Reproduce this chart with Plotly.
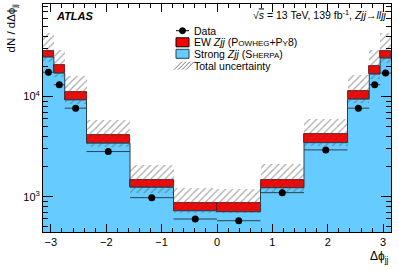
import numpy as np
import plotly.graph_objects as go

pi = np.pi
# bin edges in delta phi_jj
edges = [-pi, -15*pi/16, -7*pi/8, -3*pi/4, -pi/2, -pi/4, 0.0,
         pi/4, pi/2, 3*pi/4, 7*pi/8, 15*pi/16, pi]
strong = [24800, 17140, 9270, 3420, 1240, 724, 708, 1230, 3470, 9420, 16750, 24200]
ew = [4000, 3610, 1950, 720, 230, 147, 151, 240, 730, 1980, 3200, 4450]
data = [17500, 13100, 7650, 2820, 977, 598, 575, 1096, 2930, 7650, 13100, 17150]
unc_hi = [43300, 29300, 15850, 5850, 2075, 1213, 1200, 2110, 5940, 16500, 29300, 43100]
unc_lo = [21900, 15800, 8500, 3100, 1100, 690, 680, 1110, 3170, 8650, 15100, 21800]

x_ticks = [-3, -2, -1, 0, 1, 2, 3]
x_ticklabels = ["\u22123", "\u22122", "\u22121", "0", "1", "2", "3"]
y_ticks = [1000, 10000]
y_ticklabels = ["10<sup>3</sup>", "10<sup>4</sup>"]

edges = np.array(edges)
centers = 0.5 * (edges[:-1] + edges[1:])
widths = np.diff(edges)
strong_a = np.array(strong, float)
ew_a = np.array(ew, float)

BLUE = "#66ccff"
RED = "#ff0000"
LINE = "#2a4050"
HATCH = "#555555"
FONT = "Liberation Sans, Arial, Helvetica, sans-serif"

fig = go.Figure()
# strong Zjj filled histogram
fig.add_trace(go.Bar(x=centers, y=strong_a - 10, base=10, width=widths,
                     marker=dict(color=BLUE, line=dict(width=0)), showlegend=False))
# step outline of strong
fig.add_trace(go.Scatter(x=edges, y=list(strong) + [strong[-1]], mode="lines",
                         line=dict(shape="hv", color=LINE, width=1), showlegend=False))
# EW Zjj stacked
fig.add_trace(go.Bar(x=centers, y=ew_a, base=strong_a, width=widths,
                     marker=dict(color=RED, line=dict(width=0.8, color="#550000")),
                     showlegend=False))
# total uncertainty hatch
lo = np.array(unc_lo, float)
hi = np.array(unc_hi, float)
fig.add_trace(go.Bar(x=centers, y=hi - lo, base=lo, width=widths,
                     marker=dict(color="rgba(0,0,0,0)", line=dict(width=0),
                                 pattern=dict(shape="/", fgcolor=HATCH, bgcolor="rgba(0,0,0,0)",
                                              size=5, solidity=0.25, fillmode="overlay")),
                     showlegend=False))
# data
fig.add_trace(go.Scatter(x=centers, y=data, mode="markers",
                         marker=dict(color="black", size=7),
                         error_x=dict(type="data", array=widths / 2, color=LINE, thickness=1, width=0),
                         showlegend=False))

L, R, T, B = 43, 8, 4, 38
W, H = 399, 270
pw, ph = W - L - R, H - T - B

def px(x):
    return (x - L) / pw

def py(y):
    return (H - B - y) / ph

fig.update_layout(
    width=W, height=H, margin=dict(l=L, r=R, t=T, b=B),
    paper_bgcolor="white", plot_bgcolor="white", barmode="overlay",
    bargap=0, font=dict(family=FONT, size=11, color="black"),
)
fig.update_xaxes(range=[-pi, pi], tickvals=x_ticks, ticktext=x_ticklabels,
                 ticks="inside", ticklen=8, tickwidth=1, tickcolor="black",
                 showline=True, linecolor="black", linewidth=1, mirror="allticks",
                 showgrid=False, zeroline=False,
                 minor=dict(ticks="inside", ticklen=4, dtick=0.2, tick0=0, tickcolor="black", showgrid=False),
                 tickfont=dict(size=11))
minor_y = [m * 10**e for e in (2, 3, 4) for m in range(2, 10)]
fig.update_yaxes(type="log", range=[2.647, 4.924], tickvals=y_ticks, ticktext=y_ticklabels,
                 ticks="inside", ticklen=10, tickwidth=1, tickcolor="black",
                 showline=True, linecolor="black", linewidth=1, mirror="allticks",
                 showgrid=False, zeroline=False,
                 minor=dict(ticks="inside", ticklen=5, tickvals=minor_y, tickcolor="black", showgrid=False),
                 tickfont=dict(size=11))

ann = []
ann.append(dict(text="<b><i>ATLAS</i></b>", x=px(54), y=py(16), xref="paper", yref="paper",
                xanchor="left", yanchor="middle", showarrow=False, font=dict(size=11)))
ann.append(dict(text="\u221a<span style='text-decoration:overline'><i>s</i></span> = 13 TeV, 139 fb<sup>-1</sup>, <i>Zjj</i>\u2192<i>lljj</i>",
                x=px(389), y=py(14), xref="paper", yref="paper",
                xanchor="right", yanchor="middle", showarrow=False, font=dict(size=10.5)))
ann.append(dict(text="dN / d\u0394\u03d5<sub>jj</sub>", x=px(12), y=py(2), xref="paper", yref="paper",
                xanchor="center", yanchor="top", textangle=-90, showarrow=False, font=dict(size=11.5)))
ann.append(dict(text="\u0394\u03d5<sub>jj</sub>", x=1.0, y=py(257), xref="paper", yref="paper",
                xanchor="right", yanchor="middle", showarrow=False, font=dict(size=12)))

leg_text = ["Data",
            "EW <i>Zjj</i> (P<span style='font-size:8px'>OWHEG</span>+P<span style='font-size:8px'>Y</span>8)",
            "Strong <i>Zjj</i> (S<span style='font-size:8px'>HERPA</span>)",
            "Total uncertainty"]
leg_y = [30.7, 42.3, 53.8, 65.7]
for t, yy in zip(leg_text, leg_y):
    ann.append(dict(text=t, x=px(192), y=py(yy), xref="paper", yref="paper",
                    xanchor="left", yanchor="middle", showarrow=False, font=dict(size=10.5)))

shapes = []
# data legend symbol
shapes.append(dict(type="line", xref="paper", yref="paper", x0=px(176), x1=px(189),
                   y0=py(leg_y[0]), y1=py(leg_y[0]), line=dict(color="black", width=1)))
shapes.append(dict(type="circle", xref="paper", yref="paper", x0=px(179.5), x1=px(185.5),
                   y0=py(leg_y[0] + 3), y1=py(leg_y[0] - 3), fillcolor="black", line=dict(color="black", width=1)))
# EW box
shapes.append(dict(type="rect", xref="paper", yref="paper", x0=px(176), x1=px(189),
                   y0=py(leg_y[1] + 4.5), y1=py(leg_y[1] - 4.5), fillcolor=RED, line=dict(color="black", width=1)))
# Strong box
shapes.append(dict(type="rect", xref="paper", yref="paper", x0=px(176), x1=px(189),
                   y0=py(leg_y[2] + 4.5), y1=py(leg_y[2] - 4.5), fillcolor=BLUE, line=dict(color=LINE, width=1)))
# hatch symbol
yc = leg_y[3]
for k in range(4):
    x0 = 174 + k * 4
    shapes.append(dict(type="line", xref="paper", yref="paper", x0=px(x0), x1=px(x0 + 8),
                       y0=py(yc + 4), y1=py(yc - 4), line=dict(color=HATCH, width=0.8)))

fig.update_layout(annotations=ann, shapes=shapes)
fig.write_html("out.html", config={"displayModeBar": False},
               post_script="document.body.style.margin='0';document.body.style.overflow='hidden';")
